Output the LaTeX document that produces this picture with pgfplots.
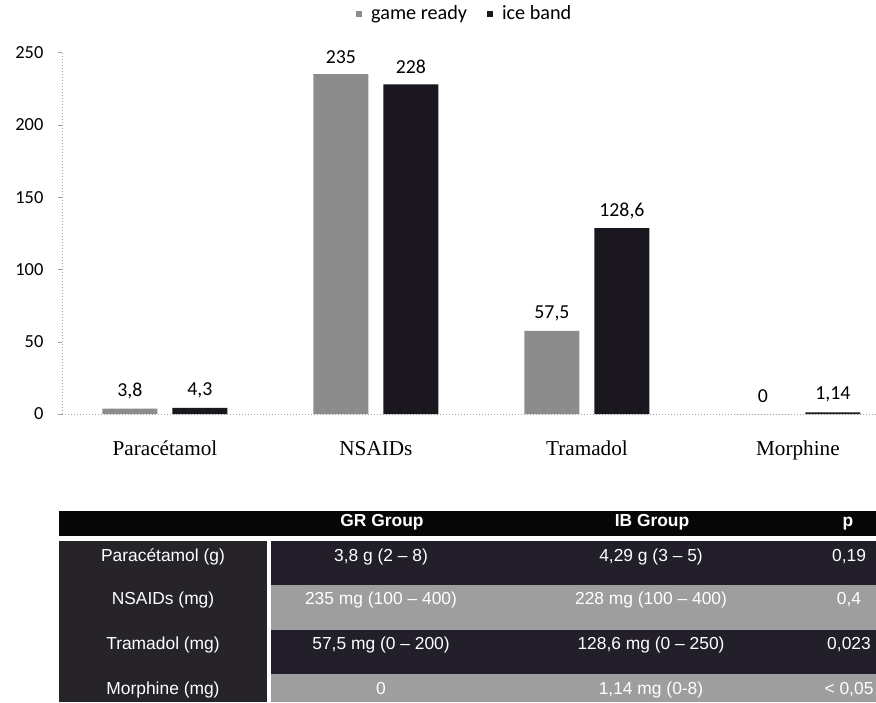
\documentclass[border=0pt]{standalone}
\usepackage{fontspec}
\setmainfont{Carlito}
\newfontfamily\serifcat{Liberation Serif}
\newfontfamily\tabfont{Liberation Sans}
\usepackage{pgfplots}
\pgfplotsset{compat=1.18}
\definecolor{grbar}{RGB}{140,140,140}
\definecolor{ibbar}{RGB}{26,24,30}
\definecolor{hdr}{RGB}{6,6,6}
\definecolor{leftcol}{RGB}{38,36,40}
\definecolor{darkrow}{RGB}{34,30,42}
\definecolor{lightrow}{RGB}{158,158,158}
\begin{document}
\begin{tikzpicture}
\path[fill=white] (0pt,0pt) rectangle (438pt,-351pt);
\path[use as bounding box] (0pt,0pt) rectangle (438pt,-351pt);
\begin{axis}[
  at={(31pt,-207pt)}, anchor=south west,
  scale only axis, width=407pt, height=180.75pt,
  ybar=7.5pt, bar width=27.5pt,
  xmin=-0.488, xmax=3.37, ymin=0, ymax=250,
  axis lines*=left,
  x axis line style={gray!70, line width=0.5pt, densely dotted},
  y axis line style={gray!70, line width=0.5pt, densely dotted},
  xtick={0,1,2,3},
  xticklabels={Paracétamol, NSAIDs, Tramadol, Morphine},
  major x tick style={draw=none},
  ytick={0,50,100,150,200,250},
  tick align=outside, major tick length=2pt,
  major y tick style={gray!70},
  xticklabel style={font=\serifcat\fontsize{10.6}{12}\selectfont, yshift=-8pt},
  yticklabel style={font=\fontsize{9.2}{11}\selectfont, xshift=-3.8pt},
  /pgf/number format/assume math mode=true,
  nodes near coords, point meta=explicit symbolic,
  every node near coord/.append style={font=\fontsize{9.9}{11}\selectfont, anchor=center, yshift=8.75pt, text=black},
  legend style={at={(0.496,1.1065)}, anchor=center, draw=none, fill=none,
     legend columns=2, font=\fontsize{10.1}{12}\selectfont,
     /tikz/every odd column/.append style={column sep=2.5pt},
     /tikz/every even column/.append style={column sep=8pt}},
  legend image code/.code={\fill[#1] (0pt,-1.5pt) rectangle (3pt,1.5pt);},
  clip=false,
]
\addplot[fill=grbar, draw=none] coordinates {(0,3.8) [{3,8}] (1,235) [{235}] (2,57.5) [{57,5}] (3,0) [{0}]};
\addplot[fill=ibbar, draw=none] coordinates {(0,4.3) [{4,3}] (1,228) [{228}] (2,128.6) [{128,6}] (3,1.14) [{1,14}]};
\legend{game ready, ice band}
\end{axis}
% table
\fill[hdr] (29.5pt,-255.5pt) rectangle (438pt,-268pt);
\fill[leftcol] (29.5pt,-270.5pt) rectangle (133.5pt,-351pt);
\fill[darkrow] (135.5pt,-270.5pt) rectangle (438pt,-292.5pt);
\fill[lightrow] (135.5pt,-292.5pt) rectangle (438pt,-315pt);
\fill[darkrow] (135.5pt,-315pt) rectangle (438pt,-337pt);
\fill[lightrow] (135.5pt,-337pt) rectangle (438pt,-351pt);
\begin{scope}[every node/.style={text=white, anchor=base, inner sep=0pt, font=\tabfont\fontsize{8.7}{10}\selectfont}]
\node[font=\tabfont\bfseries\fontsize{8.7}{10}\selectfont] at (191pt,-263pt) {GR Group};
\node[font=\tabfont\bfseries\fontsize{8.7}{10}\selectfont] at (326pt,-263pt) {IB Group};
\node[font=\tabfont\bfseries\fontsize{8.7}{10}\selectfont] at (424pt,-263pt) {p};
\node at (81.5pt,-280.5pt) {Paracétamol (g)};
\node at (81.5pt,-302pt) {NSAIDs (mg)};
\node at (81.5pt,-324.5pt) {Tramadol (mg)};
\node at (81.5pt,-347pt) {Morphine (mg)};
\node at (190.5pt,-280.5pt) {3,8 g (2 – 8)};
\node at (190.5pt,-302pt) {235 mg (100 – 400)};
\node at (190.5pt,-324.5pt) {57,5 mg (0 – 200)};
\node at (190.5pt,-347pt) {0};
\node at (325.5pt,-280.5pt) {4,29 g (3 – 5)};
\node at (325.5pt,-302pt) {228 mg (100 – 400)};
\node at (325.5pt,-324.5pt) {128,6 mg (0 – 250)};
\node at (325.5pt,-347pt) {1,14 mg (0-8)};
\node at (424.5pt,-280.5pt) {0,19};
\node at (424.5pt,-302pt) {0,4};
\node at (424.5pt,-324.5pt) {0,023};
\node at (424.5pt,-347pt) {< 0,05};
\end{scope}
\end{tikzpicture}
\end{document}
